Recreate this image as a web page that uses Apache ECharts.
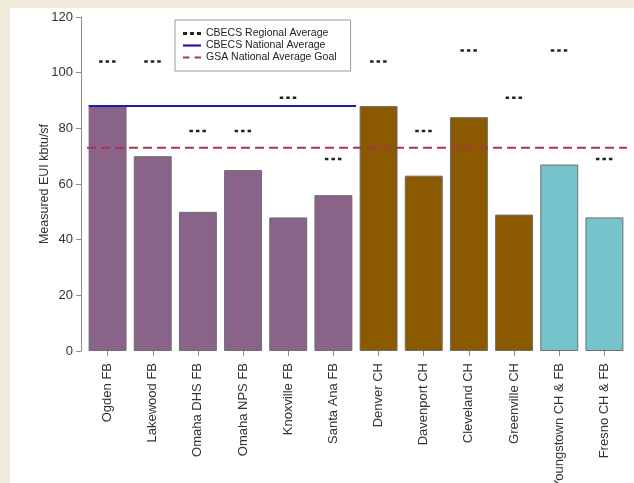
<!DOCTYPE html>
<html>
<head>
<meta charset="utf-8">
<script src="https://cdn.jsdelivr.net/npm/echarts@6/dist/echarts.min.js"></script>
<style>
  html, body { margin: 0; padding: 0; background: #efebdc; }
  #panel { position: absolute; left: 10px; top: 8px; width: 624px; height: 475px; background: #ffffff; }
  #chart { position: absolute; left: 0; top: 0; width: 634px; height: 483px; }
</style>
</head>
<body>
<div id="panel"></div>
<div id="chart"></div>
<script>
// ---- Data ----
const categories = ['Ogden FB', 'Lakewood FB', 'Omaha DHS FB', 'Omaha NPS FB', 'Knoxville FB', 'Santa Ana FB',
                    'Denver CH', 'Davenport CH', 'Cleveland CH', 'Greenville CH', 'Youngstown CH & FB', 'Fresno CH & FB'];
const measuredEUI = [88, 70, 50, 65, 48, 56, 88, 63, 84, 49, 67, 48];
const regionalAverage = [104, 104, 79, 79, 91, 69, 104, 79, 108, 91, 108, 69];
const buildingGroup = ['FB', 'FB', 'FB', 'FB', 'FB', 'FB', 'CH', 'CH', 'CH', 'CH', 'MIX', 'MIX'];
const nationalAverage = 88;          // CBECS National Average
const nationalSpan = [0, 5];         // drawn across the FB buildings
const gsaGoal = 73;                  // GSA National Average Goal
const yTicks = [0, 20, 40, 60, 80, 100, 120];
const seriesNames = ['CBECS Regional Average', 'CBECS National Average', 'GSA National Average Goal'];

// ---- Styles ----
const groupColors = { FB: '#8a6388', CH: '#8b5a00', MIX: '#76c3cc' };
const FONT = "'Liberation Sans', Arial, sans-serif";

const chart = echarts.init(document.getElementById('chart'), null, { renderer: 'canvas' });

const option = {
  backgroundColor: 'transparent',
  animation: false,
  textStyle: { fontFamily: FONT },
  grid: { left: 85, right: 7, top: 17, bottom: 132, containLabel: false, outerBoundsMode: 'none' },
  legend: {
    orient: 'vertical',
    left: 175, top: 20,
    padding: [8, 14, 8, 8],
    itemGap: 1,
    itemWidth: 18, itemHeight: 8,
    borderColor: '#9a9a9a', borderWidth: 1,
    backgroundColor: '#ffffff',
    selectedMode: false,
    textStyle: { fontSize: 10.5, color: '#222', fontFamily: FONT },
    data: [
      { name: seriesNames[0], icon: 'path://M0,0h4v3h-4zM7,0h4v3h-4zM14,0h4v3h-4z' },
      { name: seriesNames[1], icon: 'path://M0,0h18v2.2h-18z' },
      { name: seriesNames[2], icon: 'path://M0,0h6.5v2.2h-6.5zM11.5,0h6.5v2.2h-6.5z' }
    ]
  },
  xAxis: {
    type: 'category',
    data: categories,
    axisLine: { show: false },
    axisTick: { show: true, alignWithLabel: true, length: 5, lineStyle: { color: '#8a8a8a' } },
    axisLabel: { rotate: 90, margin: 12, fontSize: 13, color: '#333', fontFamily: FONT, interval: 0 },
    splitLine: { show: false }
  },
  yAxis: {
    type: 'value',
    min: 0, max: 120, interval: 20,
    offset: 4,
    name: 'Measured EUI kbtu/sf',
    nameLocation: 'middle',
    nameGap: 30,
    nameMoveOverlap: false,
    nameTextStyle: { fontSize: 12.5, color: '#333', fontFamily: FONT },
    axisLine: { show: true, lineStyle: { color: '#8a8a8a' } },
    axisTick: { show: true, length: 5, lineStyle: { color: '#8a8a8a' } },
    axisLabel: {
      margin: 8, fontSize: 13, color: '#333', fontFamily: FONT,
      formatter: v => (yTicks.indexOf(v) >= 0 ? String(v) : '')
    },
    splitLine: { show: false }
  },
  series: [
    {
      type: 'bar',
      name: 'Measured EUI',
      barCategoryGap: '16%',
      z: 2,
      data: measuredEUI.map((v, i) => ({
        value: v,
        itemStyle: { color: groupColors[buildingGroup[i]], borderColor: '#6e6e6e', borderWidth: 1 }
      }))
    },
    {
      type: 'custom',
      name: seriesNames[0],
      z: 5,
      itemStyle: { color: '#222' },
      encode: { x: 0, y: 1 },
      data: regionalAverage.map((v, i) => [i, v]),
      renderItem: (params, api) => {
        const p = api.coord([api.value(0), api.value(1)]);
        return {
          type: 'line',
          shape: { x1: p[0] - 8.5, y1: p[1], x2: p[0] + 8.5, y2: p[1] },
          style: { stroke: '#222', lineWidth: 2.5, lineDash: [3.5, 3] }
        };
      }
    },
    {
      type: 'custom',
      name: seriesNames[1],
      z: 4,
      itemStyle: { color: '#1c1cb4' },
      encode: { x: [0, 1], y: 2 },
      data: [[nationalSpan[0], nationalSpan[1], nationalAverage]],
      renderItem: (params, api) => {
        const p0 = api.coord([api.value(0), api.value(2)]);
        const p1 = api.coord([api.value(1), api.value(2)]);
        const band = api.size([1, 0])[0];
        return {
          type: 'line',
          shape: { x1: p0[0] - band * 0.42, y1: p0[1], x2: p1[0] + band / 2, y2: p1[1] },
          style: { stroke: '#1c1cb4', lineWidth: 2 }
        };
      }
    },
    {
      type: 'custom',
      name: seriesNames[2],
      z: 4,
      itemStyle: { color: '#a8345a' },
      encode: { x: 0, y: 1 },
      data: [[0, gsaGoal]],
      renderItem: (params, api) => {
        const y = api.coord([0, api.value(1)])[1];
        const cs = params.coordSys;
        return {
          type: 'line',
          shape: { x1: cs.x + 2, y1: y, x2: cs.x + cs.width, y2: y },
          style: { stroke: '#a8345a', lineWidth: 2, lineDash: [9, 5] }
        };
      }
    }
  ]
};

chart.setOption(option);
</script>
</body>
</html>
